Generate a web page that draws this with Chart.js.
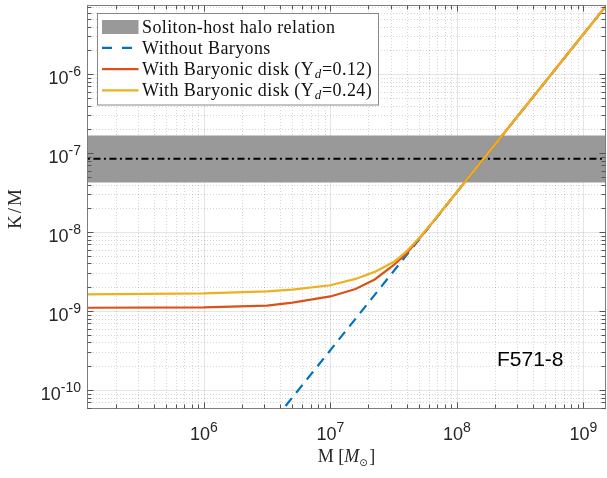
<!DOCTYPE html>
<html>
<head>
<meta charset="utf-8">
<script src="https://cdn.jsdelivr.net/npm/chart.js@4.4.1/dist/chart.umd.min.js"></script>
<style>
  html, body { margin: 0; padding: 0; background: #fff; }
  canvas { display: block; }
</style>
</head>
<body>
<canvas id="kmChart" width="607" height="478"></canvas>
<script>
// masses (M_sun) where the two baryonic curves were read
const masses = [1e5, 1e6, 3.16e6, 5.01e6, 1e7, 1.58e7, 2.24e7, 3.16e7, 3.98e7, 5.01e7, 6.31e7, 1e8, 1e9, 2e9];
const kmDisk012 = [1.10e-9, 1.11e-9, 1.17e-9, 1.28e-9, 1.53e-9, 1.90e-9, 2.51e-9, 3.80e-9, 5.31e-9, 8.15e-9, 1.28e-8, 3.21e-8, 3.2e-6, 1.28e-5];
const kmDisk024 = [1.62e-9, 1.67e-9, 1.77e-9, 1.87e-9, 2.12e-9, 2.55e-9, 3.13e-9, 4.17e-9, 5.64e-9, 8.35e-9, 1.29e-8, 3.22e-8, 3.2e-6, 1.28e-5];

// without baryons: a straight line in log-log
const massNoBaryon = [3e6, 1e7, 1e8, 1e9, 2e9];
const kmNoBaryon = [2.9e-11, 3.2e-10, 3.2e-8, 3.2e-6, 1.28e-5];

// soliton-host halo relation (central value and band)
const hostMass = [1e5, 2e9];
const hostCenter = [8.47e-8, 8.47e-8];
const hostLow = [4.25e-8, 4.25e-8];
const hostHigh = [1.67e-7, 1.67e-7];

const xRange = [1.19e5, 1.51e9];
const yRange = [5.75e-11, 7.5e-6];
const xTickExp = [6, 7, 8, 9];
const yTickExp = [-10, -9, -8, -7, -6];

const legendLabels = ['Soliton-host halo relation', 'Without Baryons',
  'With Baryonic disk (\u03A5_d=0.12)', 'With Baryonic disk (\u03A5_d=0.24)'];
const galaxyName = 'F571-8';

const BLUE = '#0072BD', RED = '#D95319', YELLOW = '#EDB120', BAND = 'rgb(153,153,153)';
const SANS = '"Liberation Sans", Arial, sans-serif';
const SERIF = '"Liberation Serif", "Times New Roman", serif';

function pts(xs, ys) {
  return xs.map((x, i) => ({ x: x, y: ys[i] }));
}

// 1..9 x 10^n inside [min, max]
function logSteps(min, max) {
  const out = [];
  for (let e = Math.floor(Math.log10(min)); e <= Math.ceil(Math.log10(max)); e++) {
    for (let m = 1; m < 10; m++) {
      const v = m * Math.pow(10, e);
      if (v >= min && v <= max) out.push({ v: v, major: m === 1 });
    }
  }
  return out;
}

function drawPower(ctx, exp, x, y, align, supDy) {
  ctx.font = '18px ' + SANS;
  const wb = ctx.measureText('10').width;
  ctx.font = '14px ' + SANS;
  const ws = ctx.measureText(String(exp)).width;
  const left = align === 'right' ? x - wb - ws : x - (wb + ws) / 2;
  ctx.textAlign = 'left';
  ctx.textBaseline = 'alphabetic';
  ctx.font = '18px ' + SANS;
  ctx.fillText('10', left, y);
  ctx.font = '14px ' + SANS;
  ctx.fillText(String(exp), left + wb, y - supDy);
}

// text with "_x" turned into an italic subscript
function drawRich(ctx, text, x, y, size) {
  const parts = text.split('_');
  ctx.textAlign = 'left';
  ctx.font = size + 'px ' + SERIF;
  ctx.fillText(parts[0], x, y);
  x += ctx.measureText(parts[0]).width;
  if (parts.length > 1) {
    const sub = parts[1].charAt(0), rest = parts[1].slice(1);
    ctx.font = 'italic ' + Math.round(size * 0.7) + 'px ' + SERIF;
    ctx.fillText(sub, x + 0.5, y + 3);
    x += ctx.measureText(sub).width + 1;
    ctx.font = size + 'px ' + SERIF;
    ctx.fillText(rest, x, y);
  }
}

const matlabAxes = {
  id: 'matlabAxes',
  beforeDatasetsDraw(chart) {
    const { ctx, chartArea: a, scales } = chart;
    ctx.save();
    ctx.lineWidth = 1;
    for (const pass of [false, true]) {
      ctx.setLineDash(pass ? [] : [1, 2]);
      ctx.strokeStyle = pass ? 'rgba(0,0,0,0.10)' : 'rgba(0,0,0,0.16)';
      for (const t of logSteps(xRange[0], xRange[1])) {
        if (t.major !== pass) continue;
        const px = Math.round(scales.x.getPixelForValue(t.v)) + 0.5;
        ctx.beginPath(); ctx.moveTo(px, a.top); ctx.lineTo(px, a.bottom); ctx.stroke();
      }
      for (const t of logSteps(yRange[0], yRange[1])) {
        if (t.major !== pass) continue;
        const py = Math.round(scales.y.getPixelForValue(t.v)) + 0.5;
        ctx.beginPath(); ctx.moveTo(a.left, py); ctx.lineTo(a.right, py); ctx.stroke();
      }
    }
    ctx.restore();
  },
  afterDatasetsDraw(chart) {
    const { ctx, chartArea: a, scales } = chart;
    ctx.save();
    ctx.setLineDash([]);
    ctx.strokeStyle = '#7d7d7d';
    ctx.lineWidth = 1;
    const L = Math.round(a.left) + 0.5, R = Math.round(a.right) - 0.5;
    const T = Math.round(a.top) + 0.5, B = Math.round(a.bottom) - 0.5;
    ctx.strokeRect(L, T, R - L, B - T);

    // inward ticks on all four sides
    ctx.strokeStyle = '#555';
    for (const t of logSteps(xRange[0], xRange[1])) {
      const px = Math.round(scales.x.getPixelForValue(t.v)) + 0.5;
      const len = t.major ? 6 : 4;
      ctx.beginPath();
      ctx.moveTo(px, B); ctx.lineTo(px, B - len);
      ctx.moveTo(px, T); ctx.lineTo(px, T + len);
      ctx.stroke();
    }
    for (const t of logSteps(yRange[0], yRange[1])) {
      const py = Math.round(scales.y.getPixelForValue(t.v)) + 0.5;
      const len = t.major ? 6 : 4;
      ctx.beginPath();
      ctx.moveTo(L, py); ctx.lineTo(L + len, py);
      ctx.moveTo(R, py); ctx.lineTo(R - len, py);
      ctx.stroke();
    }

    // tick labels
    ctx.fillStyle = '#262626';
    for (const e of xTickExp) {
      const px = scales.x.getPixelForValue(Math.pow(10, e));
      drawPower(ctx, e, px, a.bottom + 31, 'center', 8.5);
    }
    for (const e of yTickExp) {
      const py = scales.y.getPixelForValue(Math.pow(10, e));
      drawPower(ctx, e, a.left - 6, py + 10, 'right', 8.5);
    }

    // x title: M [M_sun]
    ctx.fillStyle = '#262626';
    ctx.textBaseline = 'alphabetic';
    ctx.textAlign = 'left';
    const cx = (a.left + a.right) / 2, by = 462;
    const up = '18px ' + SERIF, it = 'italic 18px ' + SERIF, sun = '10px "DejaVu Sans", sans-serif';
    const pieces = [
      { t: 'M [', f: up, dy: 0 },
      { t: 'M', f: it, dy: 0 },
      { t: '\u2299', f: sun, dy: 4 },
      { t: ']', f: up, dy: 0 }
    ];
    let total = 0;
    pieces.forEach(p => { ctx.font = p.f; p.w = ctx.measureText(p.t).width + (p.f === sun ? 1.5 : 0); total += p.w; });
    let xx = cx - total / 2;
    pieces.forEach(p => { ctx.font = p.f; ctx.fillText(p.t, xx, by + p.dy); xx += p.w; });

    // y title
    ctx.save();
    const cy = (a.top + a.bottom) / 2 + 2;
    ctx.translate(21, cy);
    ctx.rotate(-Math.PI / 2);
    ctx.font = '19px ' + SERIF;
    ctx.letterSpacing = '2px';
    ctx.textAlign = 'center';
    ctx.fillText('K/M', 1, 0);
    ctx.restore();

    // galaxy name
    ctx.fillStyle = '#000';
    ctx.font = '21px ' + SANS;
    ctx.textAlign = 'left';
    ctx.fillText(galaxyName, a.right - 109, a.bottom - 43);

    // legend
    const lx = 97.5, ly = 13.5, lw = 281, lh = 91.5;
    ctx.fillStyle = '#fff';
    ctx.fillRect(lx, ly, lw, lh);
    ctx.strokeStyle = '#888';
    ctx.lineWidth = 1;
    ctx.strokeRect(lx, ly, lw, lh);
    const rows = [
      { kind: 'patch', color: BAND },
      { kind: 'line', color: BLUE, dash: [10, 10] },
      { kind: 'line', color: RED, dash: [] },
      { kind: 'line', color: YELLOW, dash: [] }
    ];
    ctx.letterSpacing = '0.4px';
    rows.forEach((r, i) => {
      const yc = 26.5 + i * 21.3;
      if (r.kind === 'patch') {
        ctx.fillStyle = r.color;
        ctx.fillRect(102, yc - 6.5, 36.5, 14);
      } else {
        ctx.strokeStyle = r.color;
        ctx.lineWidth = 2.2;
        ctx.setLineDash(r.dash);
        ctx.beginPath(); ctx.moveTo(102, yc); ctx.lineTo(138.5, yc); ctx.stroke();
        ctx.setLineDash([]);
      }
      ctx.fillStyle = '#111';
      drawRich(ctx, legendLabels[i], 142, yc + 6, 18);
    });
    ctx.letterSpacing = '0px';
    ctx.restore();
  }
};

const ctx = document.getElementById('kmChart').getContext('2d');
const chart = new Chart(ctx, {
  type: 'line',
  data: {
    datasets: [
      { label: 'band high', data: pts(hostMass, hostHigh), borderWidth: 0, pointRadius: 0,
        backgroundColor: BAND, borderColor: BAND, fill: '+1', order: 6 },
      { label: 'band low', data: pts(hostMass, hostLow), borderWidth: 0, pointRadius: 0,
        borderColor: BAND, fill: false, order: 5 },
      { label: 'host relation', data: pts(hostMass, hostCenter), borderColor: '#000', borderWidth: 2,
        borderDash: [7, 3.5, 2, 3.5], pointRadius: 0, fill: false, order: 4 },
      { label: legendLabels[1], data: pts(massNoBaryon, kmNoBaryon), borderColor: BLUE, borderWidth: 2.2,
        borderDash: [10, 7], pointRadius: 0, fill: false, order: 3 },
      { label: legendLabels[2], data: pts(masses, kmDisk012), borderColor: RED, borderWidth: 2.2,
        pointRadius: 0, fill: false, order: 2 },
      { label: legendLabels[3], data: pts(masses, kmDisk024), borderColor: YELLOW, borderWidth: 2.2,
        pointRadius: 0, fill: false, order: 1 }
    ]
  },
  options: {
    responsive: false,
    animation: false,
    events: [],
    layout: { padding: { left: 87, right: 1, top: 5, bottom: 69 } },
    scales: {
      x: { type: 'logarithmic', min: xRange[0], max: xRange[1], display: false },
      y: { type: 'logarithmic', min: yRange[0], max: yRange[1], display: false }
    },
    plugins: {
      legend: { display: false },
      tooltip: { enabled: false }
    }
  },
  plugins: [matlabAxes]
});
</script>
</body>
</html>
